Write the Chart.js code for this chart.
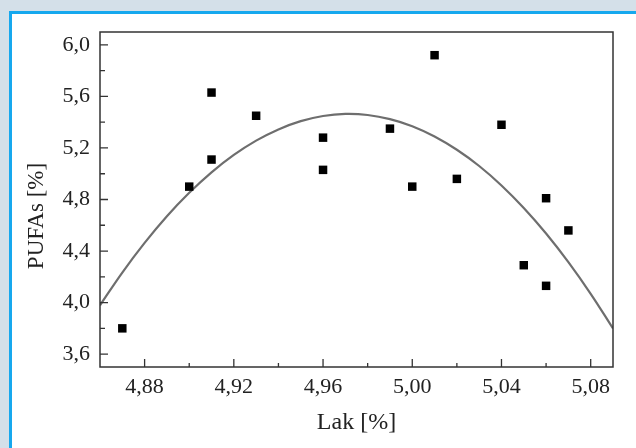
<!DOCTYPE html>
<html>
<head>
<meta charset="utf-8">
<script src="https://cdn.jsdelivr.net/npm/chart.js@4.4.1/dist/chart.umd.min.js"></script>
<style>
  html, body { margin: 0; padding: 0; background: #ffffff; }
  body { width: 636px; height: 448px; position: relative; overflow: hidden; }
  #outer { position: absolute; left: 0; top: 0; width: 700px; height: 520px; background: #d4e0e9; }
  #frame { position: absolute; left: 9px; top: 11px; width: 700px; height: 520px; background: #ffffff;
           border-left: 3px solid #16a8ee; border-top: 3px solid #16a8ee; }
  #wrap { position: absolute; left: 0; top: 0; width: 636px; height: 448px; }
</style>
</head>
<body>
<div id="outer"></div>
<div id="frame"></div>
<div id="wrap"><canvas id="chart-pufa" width="636" height="448"></canvas></div>
<script>
// measured points
const lakValues  = [4.87, 4.90, 4.91, 4.91, 4.93, 4.96, 4.96, 4.99, 5.00, 5.01, 5.02, 5.04, 5.05, 5.06, 5.06, 5.07];
const pufaValues = [3.80, 4.90, 5.63, 5.11, 5.45, 5.28, 5.03, 5.35, 4.90, 5.92, 4.96, 5.38, 4.29, 4.81, 4.13, 4.56];

// fitted curve
const fitLak  = [4.86, 4.87, 4.88, 4.89, 4.90, 4.91, 4.92, 4.93, 4.94, 4.95, 4.96, 4.97,
                 4.98, 4.99, 5.00, 5.01, 5.02, 5.03, 5.04, 5.05, 5.06, 5.07, 5.08, 5.09];
const fitPufa = [3.979, 4.233, 4.463, 4.670, 4.852, 5.011, 5.146, 5.257, 5.344, 5.408, 5.448, 5.464,
                 5.456, 5.424, 5.369, 5.289, 5.186, 5.060, 4.909, 4.734, 4.536, 4.314, 4.068, 3.799];

// tick labels
const xMajorTicks = [4.88, 4.92, 4.96, 5.00, 5.04, 5.08];
const xMinorTicks = [4.90, 4.94, 4.98, 5.02, 5.06];
const yMajorTicks = [3.6, 4.0, 4.4, 4.8, 5.2, 5.6, 6.0];
const yMinorTicks = [3.8, 4.2, 4.6, 5.0, 5.4, 5.8];

const fontFamily = "'Liberation Serif', 'Times New Roman', serif";
const inkColor = "#222222";

// frame, inward ticks and the y title
const framePlugin = {
    id: 'framePlugin',
    afterDraw(chart) {
        const ctx = chart.ctx;
        const area = chart.chartArea;
        const xs = chart.scales.x;
        const ys = chart.scales.y;

        ctx.save();
        ctx.strokeStyle = "#333333";
        ctx.lineWidth = 1.5;
        ctx.strokeRect(area.left, area.top, area.right - area.left, area.bottom - area.top);

        ctx.lineWidth = 1.3;
        ctx.beginPath();
        xMajorTicks.forEach((v) => {
            const px = xs.getPixelForValue(v);
            ctx.moveTo(px, area.bottom);
            ctx.lineTo(px, area.bottom - 8);
        });
        xMinorTicks.forEach((v) => {
            const px = xs.getPixelForValue(v);
            ctx.moveTo(px, area.bottom);
            ctx.lineTo(px, area.bottom - 4);
        });
        yMajorTicks.forEach((v) => {
            const py = ys.getPixelForValue(v);
            ctx.moveTo(area.left, py);
            ctx.lineTo(area.left + 8, py);
        });
        yMinorTicks.forEach((v) => {
            const py = ys.getPixelForValue(v);
            ctx.moveTo(area.left, py);
            ctx.lineTo(area.left + 5, py);
        });
        ctx.stroke();

        ctx.translate(37, 216);
        ctx.rotate(-Math.PI / 2);
        ctx.fillStyle = inkColor;
        ctx.font = "23px " + fontFamily;
        ctx.textAlign = "center";
        ctx.textBaseline = "middle";
        ctx.fillText("PUFAs [%]", 0, 0);
        ctx.restore();
    }
};

new Chart(document.getElementById("chart-pufa"), {
    type: 'scatter',
    data: {
        datasets: [
            {
                label: "PUFAs",
                data: lakValues.map((v, i) => ({ x: v, y: pufaValues[i] })),
                backgroundColor: "#000000",
                borderColor: "#000000",
                pointStyle: 'rect',
                pointRadius: 6,
                pointHoverRadius: 6,
                borderWidth: 0,
            },
            {
                label: "Fit",
                data: fitLak.map((v, i) => ({ x: v, y: fitPufa[i] })),
                showLine: true,
                borderColor: "#6e6e6e",
                borderWidth: 2.2,
                pointRadius: 0,
                tension: 0.4,
                fill: false,
            }
        ]
    },
    options: {
        responsive: false,
        animation: false,
        events: [],
        layout: {
            padding: { top: 32, right: 23, left: 0, bottom: 0 }
        },
        plugins: {
            legend: { display: false },
            tooltip: { enabled: false },
        },
        scales: {
            x: {
                type: 'linear',
                min: 4.86,
                max: 5.09,
                grid: { display: false, drawTicks: false },
                border: { display: false },
                afterBuildTicks: (scale) => {
                    scale.ticks = xMajorTicks.map((v) => ({ value: v }));
                },
                afterFit: (scale) => {
                    scale.height = 81;
                },
                ticks: {
                    padding: 7,
                    color: inkColor,
                    font: { family: fontFamily, size: 22 },
                    callback: (value) => Number(value).toFixed(2).replace('.', ','),
                },
                title: {
                    display: true,
                    text: "Lak [%]",
                    color: inkColor,
                    font: { family: fontFamily, size: 24 },
                    padding: { top: 0, bottom: 11 },
                }
            },
            y: {
                type: 'linear',
                min: 3.5,
                max: 6.1,
                grid: { display: false, drawTicks: false },
                border: { display: false },
                afterBuildTicks: (scale) => {
                    scale.ticks = yMajorTicks.map((v) => ({ value: v }));
                },
                afterFit: (scale) => {
                    scale.width = 100;
                },
                ticks: {
                    padding: 10,
                    color: inkColor,
                    font: { family: fontFamily, size: 22 },
                    callback: (value) => Number(value).toFixed(1).replace('.', ','),
                }
            }
        }
    },
    plugins: [framePlugin]
});
</script>
</body>
</html>
